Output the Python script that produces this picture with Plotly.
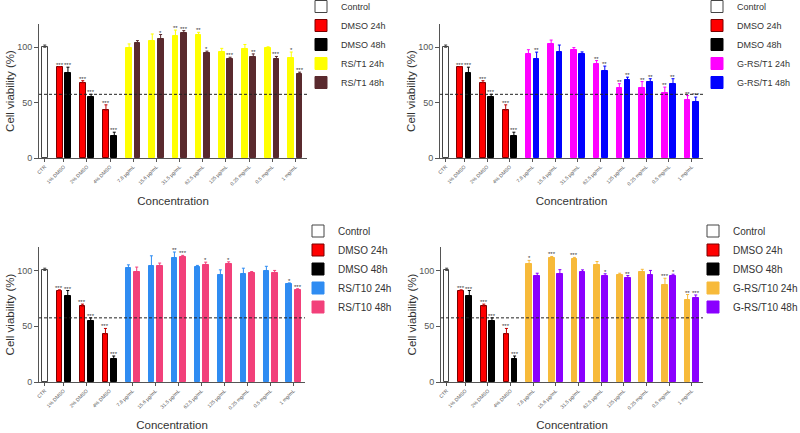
import plotly.graph_objects as go

categories = ["CTR", "1% DMSO", "2% DMSO", "4% DMSO", "7.8 µg/mL", "15.6 µg/mL",
              "31.5 µg/mL", "62.5 µg/mL", "125 µg/mL", "0.25 mg/mL", "0.5 mg/mL", "1 mg/mL"]

control_val = [100]
control_err = [2]
dmso24_val = [82, 67.8, 43]
dmso24_err = [0.6, 2, 5]
dmso24_sig = ["***", "***", "***"]
dmso48_val = [77, 55, 20.3]
dmso48_err = [5, 2.5, 3]
dmso48_sig = ["***", "***", "***"]

# panel 1: RS/T1
rst1_24_val = [99, 106, 110, 111, 96, 98.5, 99.4, 90.7]
rst1_24_err = [4, 6, 5.5, 2.5, 3, 4, 1, 5]
rst1_24_sig = ["", "", "**", "**", "", "", "", "*"]
rst1_48_val = [104, 107.5, 113, 95, 89.5, 91.6, 89, 75.5]
rst1_48_err = [2, 4, 2, 1.5, 1.5, 2.4, 2.7, 2]
rst1_48_sig = ["", "*", "***", "*", "***", "**", "***", "***"]

# panel 2: G-RS/T1
grst1_24_val = [93.8, 103, 97.3, 85, 63.6, 63, 59, 52.4]
grst1_24_err = [4, 3.5, 2.4, 3, 3.5, 6, 5, 4]
grst1_24_sig = ["", "", "", "**", "**", "**", "**", "**"]
grst1_48_val = [89.6, 96, 93.8, 79, 70, 68.6, 66.6, 51]
grst1_48_err = [6, 6, 2, 4, 3, 3, 5, 4]
grst1_48_sig = ["**", "", "", "**", "**", "**", "**", "***"]

# panel 3: RS/T10
rst10_24_val = [102, 103.6, 111, 103, 96, 97, 99.7, 87.8]
rst10_24_err = [3, 9.5, 5.5, 1.5, 4.5, 5, 4, 1]
rst10_24_sig = ["", "", "**", "", "", "", "", "*"]
rst10_48_val = [99, 103.6, 112, 105, 105.7, 98, 98, 82.4]
rst10_48_err = [4, 3, 1.5, 2.4, 2, 1, 2, 1.2]
rst10_48_sig = ["", "", "***", "*", "*", "", "", "***"]

# panel 4: G-RS/T10
grst10_24_val = [106, 111, 110, 105, 95.5, 99, 87, 73.4]
grst10_24_err = [3, 1.5, 1.7, 3, 2, 2, 6, 5]
grst10_24_sig = ["*", "***", "***", "", "", "", "***", "**"]
grst10_48_val = [95, 96.7, 99, 95, 93, 96, 94.6, 75]
grst10_48_err = [2.5, 4, 1.5, 2, 2.4, 4, 2, 3]
grst10_48_sig = ["", "", "", "*", "**", "", "*", "***"]

threshold = 57.5

panels = [
    ("RS/T1 24h", "RS/T1 48h", rst1_24_val, rst1_24_err, rst1_24_sig, rst1_48_val, rst1_48_err, rst1_48_sig,
     "#FFFF00", "#5A2A2E"),
    ("G-RS/T1 24h", "G-RS/T1 48h", grst1_24_val, grst1_24_err, grst1_24_sig, grst1_48_val, grst1_48_err, grst1_48_sig,
     "#FF00FF", "#0000FF"),
    ("RS/T10 24h", "RS/T10 48h", rst10_24_val, rst10_24_err, rst10_24_sig, rst10_48_val, rst10_48_err, rst10_48_sig,
     "#2F8CF2", "#F2407A"),
    ("G-RS/T10 24h", "G-RS/T10 48h", grst10_24_val, grst10_24_err, grst10_24_sig, grst10_48_val, grst10_48_err, grst10_48_sig,
     "#F7BA3A", "#8A00FF"),
]

W, H = 800, 433
# pixel layout (x0, x1, ybottom, ytop)
px_layout = [(39, 307, 158, 24), (440, 703, 158, 24), (39, 305, 382, 247), (441, 703, 382, 247)]
# legend anchors: (x px, y px top, font size)
legend_pos = [(301, -8, 9), (697, -8, 9), (298, 216.5, 10), (693, 216.5, 10)]

OFF = 0.18
BW = 0.25
FONT = "Arial, Liberation Sans, sans-serif"
AX = "#555555"

fig = go.Figure()
layout = dict(width=W, height=H, margin=dict(l=0, r=0, t=0, b=0, pad=0, autoexpand=False),
              paper_bgcolor="white", plot_bgcolor="white",
              font=dict(family=FONT, color="#333333"), bargap=0, barmode="overlay",
              showlegend=True)
annotations = []
shapes = []

for i, (n24, n48, v24, e24, s24, v48, e48, s48, c24, c48) in enumerate(panels):
    k = "" if i == 0 else str(i + 1)
    xa, ya = "x" + k, "y" + k
    leg = "legend" + k

    def bar(name, xs, vals, errs, color, line, ecolor):
        fig.add_trace(go.Bar(
            x=xs, y=vals, width=BW, name=name, legend=leg, xaxis=xa, yaxis=ya,
            marker=dict(color=color, line=dict(color=line, width=1)),
            error_y=dict(type="data", array=errs, arrayminus=[0] * len(errs), symmetric=False,
                         color=ecolor, thickness=1, width=1.5),
        ))

    bar("Control", [OFF], control_val, control_err, "white", "#444444", "#444444")
    bar("DMSO 24h", [g - OFF for g in (1, 2, 3)], dmso24_val, dmso24_err, "#FF0000", "#7a0000", "#c00000")
    bar("DMSO 48h", [g + OFF for g in (1, 2, 3)], dmso48_val, dmso48_err, "#000000", "#000000", "#000000")
    bar(n24, [g - OFF for g in range(4, 12)], v24, e24, c24, c24, c24)
    bar(n48, [g + OFF for g in range(4, 12)], v48, e48, c48, c48, c48)

    for xs, vals, errs, sigs in [
        ([g - OFF for g in (1, 2, 3)], dmso24_val, dmso24_err, dmso24_sig),
        ([g + OFF for g in (1, 2, 3)], dmso48_val, dmso48_err, dmso48_sig),
        ([g - OFF for g in range(4, 12)], v24, e24, s24),
        ([g + OFF for g in range(4, 12)], v48, e48, s48),
    ]:
        for x, v, e, s in zip(xs, vals, errs, sigs):
            if s:
                annotations.append(dict(x=x, y=v + e, xref=xa, yref=ya, text=s, showarrow=False,
                                        yanchor="bottom", yshift=-3, font=dict(size=6, color="#333333")))

    x0, x1, yb, yt = px_layout[i]
    fig.layout["xaxis" + k] = dict(
        domain=[x0 / W, x1 / W], anchor=ya, range=[-0.07, 11.5],
        tickmode="array", tickvals=[OFF] + list(range(1, 12)), ticktext=categories,
        tickangle=-45, tickfont=dict(size=5, color="#555555"),
        showline=True, linecolor=AX, linewidth=1, ticks="outside", ticklen=3, tickcolor=AX,
        showgrid=False, zeroline=False, automargin=False,
        title=dict(text="Concentration", font=dict(size=11.5, color="#333333"), standoff=11),
    )
    fig.layout["yaxis" + k] = dict(
        domain=[(H - yb) / H, (H - yt) / H], anchor=xa, range=[0, 121],
        tickmode="array", tickvals=[0, 50, 100], tickfont=dict(size=9, color="#555555"),
        showline=True, linecolor=AX, linewidth=1, ticks="outside", ticklen=4, tickcolor=AX,
        showgrid=False, zeroline=False, automargin=False,
        title=dict(text="Cell viability (%)", font=dict(size=11.5, color="#333333"), standoff=0),
    )
    shapes.append(dict(type="line", xref=xa + " domain", yref=ya, x0=0, x1=1, y0=threshold, y1=threshold,
                       line=dict(color="#222222", width=1, dash="3px,2px")))
    lx, ly, fs = legend_pos[i]
    layout[leg] = dict(x=lx / W, y=1 - ly / H, xanchor="left", yanchor="top",
                       font=dict(size=fs, color="#333333"), bgcolor="rgba(0,0,0,0)",
                       itemwidth=30, tracegroupgap=0, traceorder="normal")

layout["annotations"] = annotations
layout["shapes"] = shapes
fig.update_layout(**layout)
fig.write_html("out.html", config={"displayModeBar": False},
               post_script="document.body.style.margin='0px';")
